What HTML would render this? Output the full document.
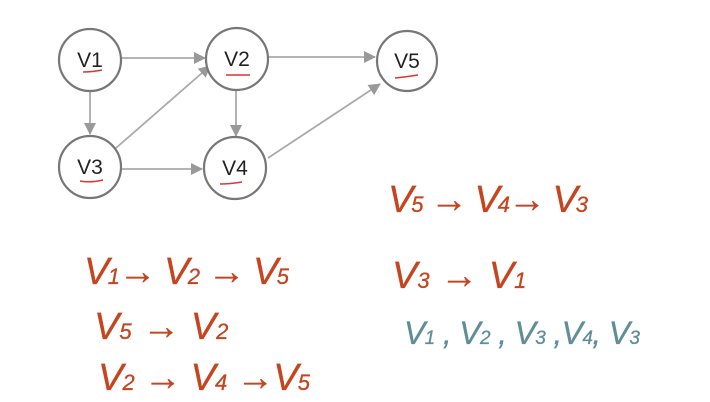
<!DOCTYPE html>
<html><head><meta charset="utf-8"><style>
html,body{margin:0;padding:0;background:#fff;}
svg{display:block;}
.n{font-family:"Liberation Sans",sans-serif;font-size:21px;fill:#222;text-anchor:middle;}
.h{font-family:"Liberation Sans",sans-serif;fill:#c4451f;stroke:#c4451f;stroke-width:0.3;font-style:italic;}
.t{font-family:"Liberation Sans",sans-serif;fill:#5f8e98;stroke:#5f8e98;stroke-width:0.3;font-style:italic;}
</style></head><body>
<svg width="710" height="402" viewBox="0 0 710 402">
<defs><marker id="a" markerWidth="12" markerHeight="12" refX="11" refY="6" orient="auto" markerUnits="userSpaceOnUse"><path d="M0,0 L12,6 L0,12z" fill="#999"/></marker></defs>
<g stroke="#aaa" stroke-width="1.8" fill="none">
<line x1="122" y1="58" x2="205" y2="58" marker-end="url(#a)"/>
<line x1="269" y1="57" x2="375" y2="57" marker-end="url(#a)"/>
<line x1="90" y1="91" x2="90" y2="134" marker-end="url(#a)"/>
<line x1="236" y1="89" x2="236" y2="136" marker-end="url(#a)"/>
<line x1="116" y1="148" x2="210" y2="66" marker-end="url(#a)"/>
<line x1="122" y1="169" x2="202" y2="169" marker-end="url(#a)"/>
<line x1="268" y1="158" x2="380" y2="84" marker-end="url(#a)"/>
</g>
<g stroke="#777" stroke-width="2.2" fill="#fff">
<circle cx="90" cy="60" r="31"/><circle cx="237" cy="59" r="31"/>
<circle cx="407" cy="61" r="30"/><circle cx="90" cy="167" r="31"/>
<circle cx="235" cy="168" r="31"/>
</g>
<text class="n" x="90" y="67">V1</text><text class="n" x="237" y="66">V2</text>
<text class="n" x="407" y="68">V5</text><text class="n" x="90" y="174">V3</text>
<text class="n" x="235" y="175">V4</text>
<g stroke="#d33" stroke-width="1.5" fill="none">
<path d="M83 72 Q92 72 102 70"/><path d="M226 75 L250 75"/><path d="M395 78 Q406 77 418 75"/>
<path d="M80 181 Q90 183 103 180"/><path d="M220 184 Q230 184 242 182"/>
</g>
<g class="h" font-size="38">
<text x="388" y="212" textLength="200">V<tspan font-size="22">5</tspan> → V<tspan font-size="22">4</tspan>→ V<tspan font-size="22">3</tspan></text>
<text x="392" y="288">V<tspan font-size="22">3</tspan> → V<tspan font-size="22">1</tspan></text>
<text x="84" y="284" textLength="205">V<tspan font-size="22">1</tspan>→ V<tspan font-size="22">2</tspan> → V<tspan font-size="22">5</tspan></text>
<text x="94" y="339">V<tspan font-size="22">5</tspan> → V<tspan font-size="22">2</tspan></text>
<text x="98" y="390" textLength="212">V<tspan font-size="22">2</tspan> → V<tspan font-size="22">4</tspan> →V<tspan font-size="22">5</tspan></text>
</g>
<text class="t" font-size="32" x="404" y="344" textLength="236">V<tspan font-size="19">1</tspan> , V<tspan font-size="19">2</tspan> , V<tspan font-size="19">3</tspan> ,V<tspan font-size="19">4</tspan>, V<tspan font-size="19">3</tspan></text>
</svg>
</body></html>
